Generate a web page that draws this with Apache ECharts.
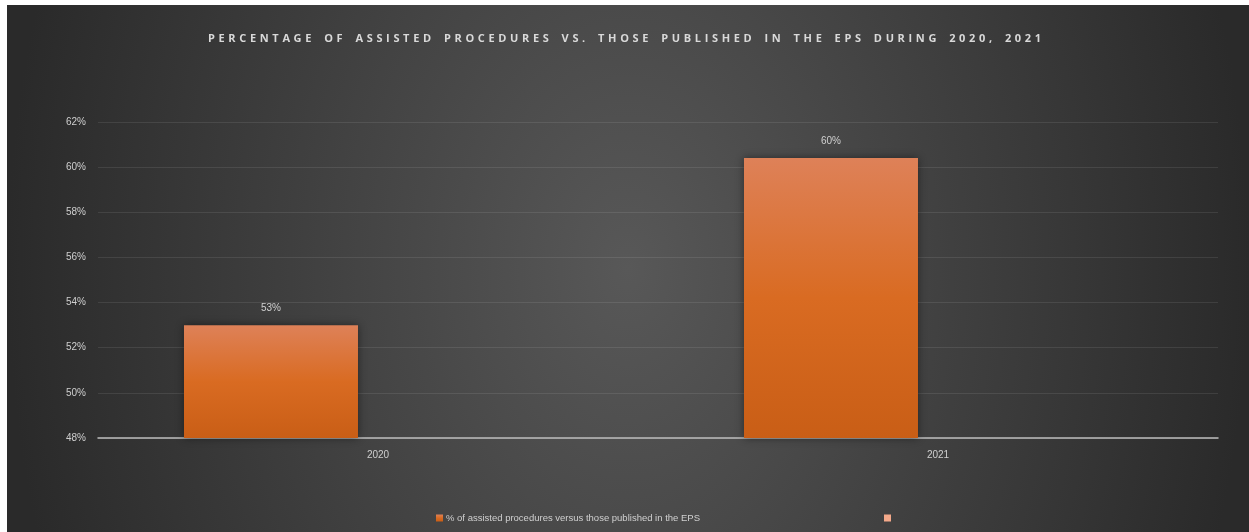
<!DOCTYPE html>
<html>
<head>
<meta charset="utf-8">
<script src="https://cdn.jsdelivr.net/npm/echarts@6/dist/echarts.min.js"></script>
<style>
html,body{margin:0;padding:0;width:1249px;height:532px;overflow:hidden;background:#ffffff;}
#bg{position:absolute;left:7px;top:5px;width:1242px;height:527px;background:radial-gradient(ellipse 50% 165% at 50% 50%, #585858 0%, #2a2a2a 100%);}
#c{position:absolute;left:0;top:0;width:1249px;height:532px;}
</style>
</head>
<body>
<div id="bg"></div>
<div id="c"></div>
<script>
const titleText = 'PERCENTAGE OF ASSISTED PROCEDURES VS. THOSE PUBLISHED IN THE EPS DURING 2020, 2021';
const categories = ['2020', '2021'];
const seriesName1 = '% of assisted procedures versus those published in the EPS';
const seriesName2 = ' ';
const values1 = [53.0, 60.4];
const values2 = [null, null];
const yTicks = { min: 48, max: 62, interval: 2 };

function spaced(s) {
  return s.split('').map(ch => ch === ' ' ? '\u2002' : ch).join('\u2009\u2009');
}

const chart = echarts.init(document.getElementById('c'), null, { renderer: 'canvas' });
chart.setOption({
  backgroundColor: 'transparent',
  animation: false,
  title: {
    text: spaced(titleText),
    left: 'center',
    top: 28,
    textStyle: { color: '#d9d9d9', fontSize: 11, fontWeight: 'bold', fontFamily: 'Open Sans' }
  },
  legend: [
    {
      data: [seriesName1],
      left: 431, top: 508,
      itemWidth: 7, itemHeight: 7, itemGap: 4,
      icon: 'rect',
      textStyle: { color: '#d0d0d0', fontSize: 9.5, fontFamily: 'Liberation Sans', padding: [0, 0, 0, -2] }
    },
    {
      data: [seriesName2],
      left: 879, top: 508,
      itemWidth: 7, itemHeight: 7,
      icon: 'rect',
      textStyle: { color: '#d0d0d0', fontSize: 9.5 }
    }
  ],
  grid: { left: 98, right: 31, top: 122, bottom: 94, containLabel: false },
  xAxis: {
    type: 'category',
    data: categories,
    axisTick: { show: false },
    axisLine: { lineStyle: { color: '#bdbdbd', width: 1.5 } },
    axisLabel: { color: '#cfcfcf', fontSize: 10, fontFamily: 'Liberation Sans', margin: 12 }
  },
  yAxis: {
    type: 'value',
    min: yTicks.min, max: yTicks.max, interval: yTicks.interval,
    axisLine: { show: false },
    axisTick: { show: false },
    axisLabel: { color: '#cfcfcf', fontSize: 10, fontFamily: 'Liberation Sans', margin: 12, formatter: v => v + '%' },
    splitLine: { lineStyle: { color: 'rgba(255,255,255,0.09)', width: 1 } }
  },
  series: [
    {
      name: seriesName1,
      type: 'bar',
      data: values1,
      barWidth: 174,
      barGap: '23%',
      itemStyle: {
        color: new echarts.graphic.LinearGradient(0, 0, 0, 1, [
          { offset: 0, color: '#de8158' },
          { offset: 0.5, color: '#d96b22' },
          { offset: 1, color: '#c95e16' }
        ]),
        shadowBlur: 8,
        shadowColor: 'rgba(0,0,0,0.45)'
      },
      label: {
        show: true,
        position: 'top',
        distance: 12,
        color: '#d0d0d0',
        fontSize: 10,
        fontFamily: 'Liberation Sans',
        formatter: p => Math.round(p.value) + '%'
      }
    },
    {
      name: seriesName2,
      type: 'bar',
      data: values2,
      barWidth: 174,
      itemStyle: { color: '#f4a98a' }
    }
  ]
});
</script>
</body>
</html>
